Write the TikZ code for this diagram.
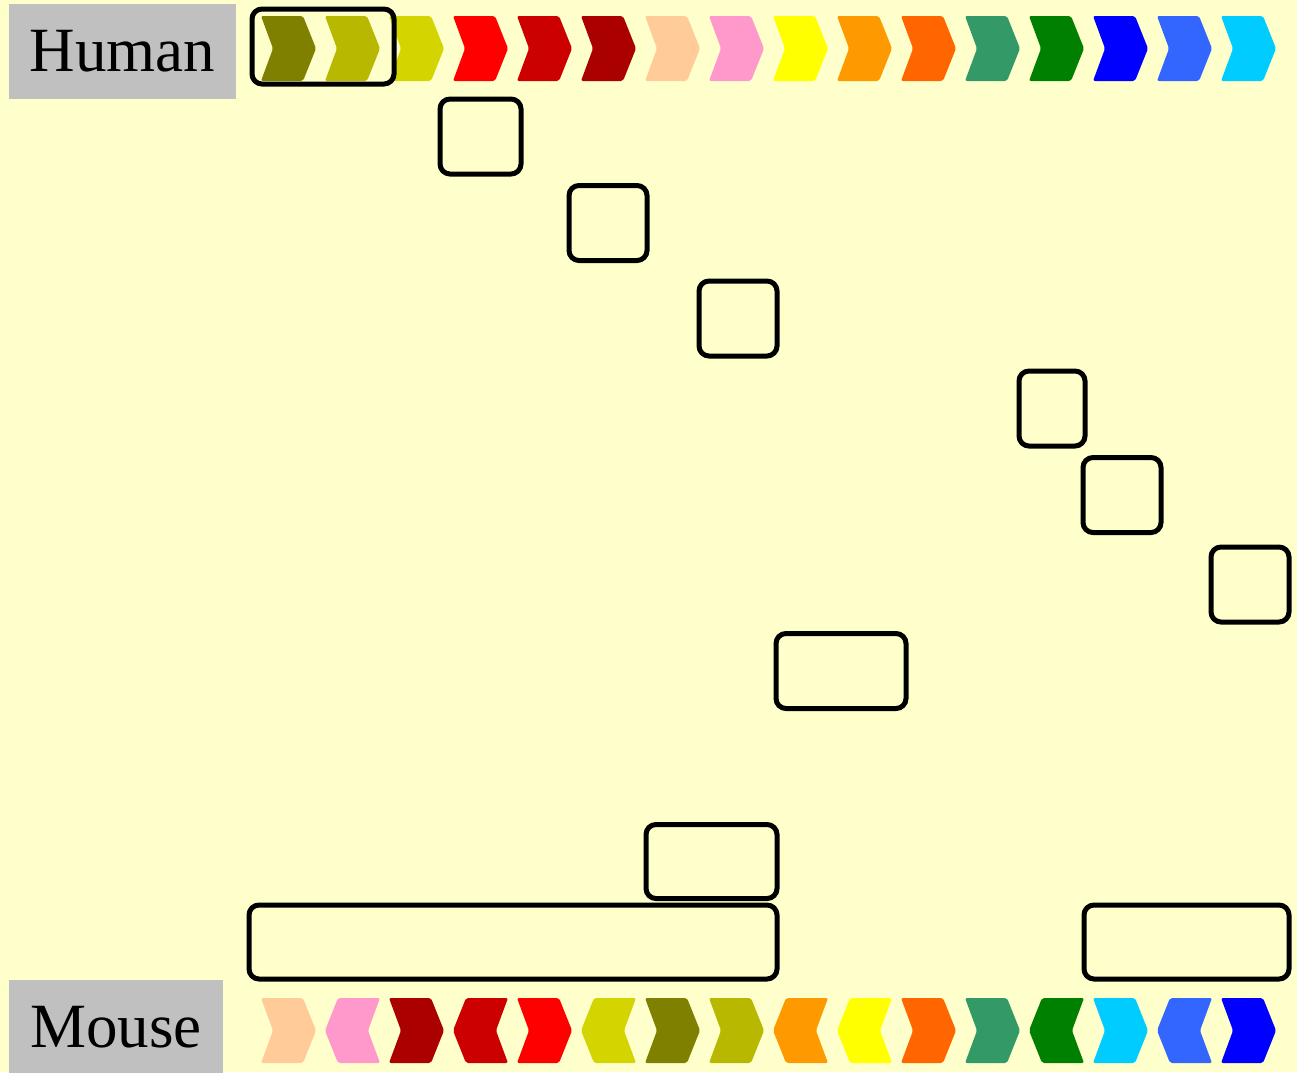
\documentclass[tikz,border=0pt]{standalone}
\usepackage{fontspec}
\setmainfont{Liberation Serif}
\definecolor{bgyellow}{HTML}{FFFFCC}
\definecolor{labelgray}{HTML}{C0C0C0}
\begin{document}
\begin{tikzpicture}[x=1pt,y=-1pt,
  species/.style={fill=labelgray, inner sep=0pt, font=\fontsize{63}{70}\selectfont},
  blk/.style={draw=black, line width=5pt, rounded corners=10pt, inner sep=0pt},
  chevfill/.style={rounded corners=2pt}]
\fill[bgyellow] (0,0) rectangle (1297,1072);
\useasboundingbox (0,0) rectangle (1297,1072);
% species labels
\node[species, minimum width=227pt, minimum height=95pt] (human) at (122.5,51.5) {Human};
\node[species, minimum width=214pt, minimum height=94pt] (mouse) at (116,1027) {Mouse};
% human chevrons
\foreach \c [count=\i from 0] in {808000,B8B800,D4D400,FF0000,CC0000,AA0000,FFCC99,FF99CC,FFFF00,FF9900,FF6600,339966,008000,0000FF,3366FF,00CCFF} {
  \definecolor{tmp}{HTML}{\c}
  \fill[tmp, chevfill] ({261+64*\i},16) -- ++(42,0) -- ++(13,32.5) -- ++(-13,32.5) -- ++(-42,0) -- ++(12,-32.5) -- cycle;
}
% mouse chevrons
\foreach \c/\d [count=\i from 0] in {FFCC99/R,FF99CC/L,AA0000/R,CC0000/L,FF0000/R,D4D400/L,808000/R,B8B800/R,FF9900/L,FFFF00/L,FF6600/R,339966/R,008000/L,00CCFF/R,3366FF/L,0000FF/R} {
  \definecolor{tmp}{HTML}{\c}
  \if\d R
    \fill[tmp, chevfill] ({261+64*\i},998) -- ++(42,0) -- ++(13,32.5) -- ++(-13,32.5) -- ++(-42,0) -- ++(12,-32.5) -- cycle;
  \else
    \fill[tmp, chevfill] ({261+64*\i+55},998) -- ++(-42,0) -- ++(-13,32.5) -- ++(13,32.5) -- ++(42,0) -- ++(-12,-32.5) -- cycle;
  \fi
}
% blocks
\node[blk, minimum width=142pt, minimum height=75pt] (b1) at (323,46.5) {};
\node[blk, minimum width=81pt, minimum height=75pt] (b2) at (480.5,136.5) {};
\node[blk, minimum width=78pt, minimum height=75pt] (b3) at (608,223) {};
\node[blk, minimum width=78pt, minimum height=75pt] (b4) at (738,318.5) {};
\node[blk, minimum width=66pt, minimum height=75pt] (b5) at (1052,408.5) {};
\node[blk, minimum width=78pt, minimum height=75pt] (b6) at (1122,495) {};
\node[blk, minimum width=78pt, minimum height=75pt] (b7) at (1250,584.5) {};
\node[blk, minimum width=130pt, minimum height=75pt] (b8) at (841,671) {};
\node[blk, minimum width=131pt, minimum height=74pt] (b9) at (711.5,861.5) {};
\node[blk, minimum width=528pt, minimum height=74pt] (b10) at (513,942) {};
\node[blk, minimum width=205pt, minimum height=74pt] (b11) at (1186.5,942) {};
\end{tikzpicture}
\end{document}
